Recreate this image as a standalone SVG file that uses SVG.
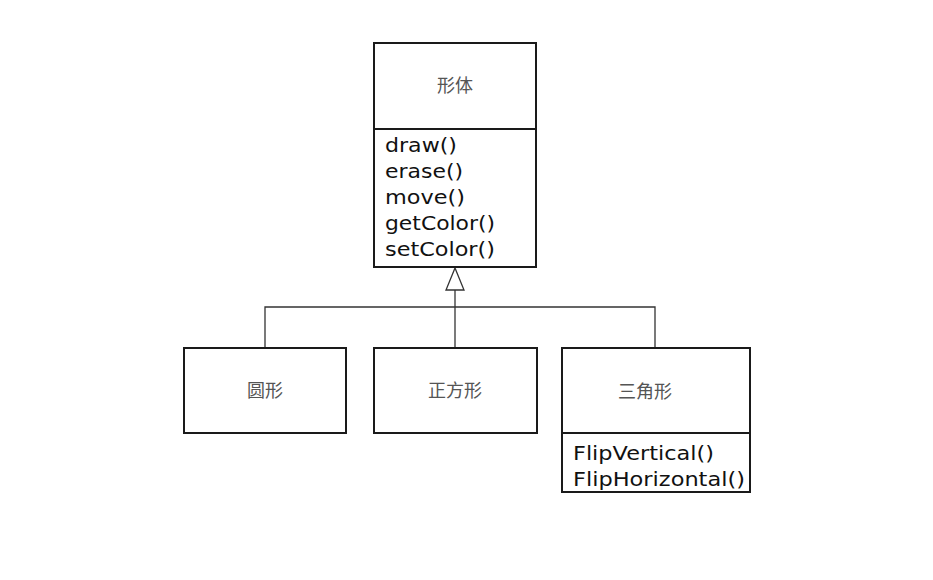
<svg xmlns="http://www.w3.org/2000/svg" width="933" height="580" viewBox="0 0 933 580">
<style>
.box{fill:#fff;stroke:#1a1a1a;stroke-width:2}
.conn{fill:none;stroke:#333;stroke-width:1.3}
.cn{font-family:"Noto Sans CJK SC","Noto Sans CJK JP",serif;font-size:18px;fill:#555;text-anchor:middle}
.m{font-family:"DejaVu Sans",Verdana,sans-serif;font-size:19px;fill:#111}
</style>
<rect width="933" height="580" fill="#fff"/>
<g id="connectors">
<polyline class="conn" points="265,348 265,307 655,307 655,348"/>
<line class="conn" x1="455" y1="290" x2="455" y2="348"/>
<polygon points="455,268 446,290 464,290" fill="#fff" stroke="#333" stroke-width="1.3"/>
</g>
<g id="shape">
<rect class="box" x="374" y="43" width="162" height="224"/>
<line x1="374" y1="129" x2="536" y2="129" stroke="#1a1a1a" stroke-width="2"/>
<text class="cn" x="455" y="92">形体</text>
<text class="m" x="385" y="152" textLength="72" lengthAdjust="spacingAndGlyphs">draw()</text>
<text class="m" x="385" y="178" textLength="78" lengthAdjust="spacingAndGlyphs">erase()</text>
<text class="m" x="385" y="204" textLength="80" lengthAdjust="spacingAndGlyphs">move()</text>
<text class="m" x="385" y="230" textLength="110" lengthAdjust="spacingAndGlyphs">getColor()</text>
<text class="m" x="385" y="256" textLength="110" lengthAdjust="spacingAndGlyphs">setColor()</text>
</g>
<g id="circle">
<rect class="box" x="184" y="348" width="162" height="85"/>
<text class="cn" x="265" y="397">圆形</text>
</g>
<g id="square">
<rect class="box" x="374" y="348" width="163" height="85"/>
<text class="cn" x="455" y="397">正方形</text>
</g>
<g id="triangle">
<rect class="box" x="562" y="348" width="188" height="144"/>
<line x1="562" y1="433" x2="750" y2="433" stroke="#1a1a1a" stroke-width="2"/>
<text class="cn" x="645" y="398">三角形</text>
<text class="m" x="573" y="460" textLength="141" lengthAdjust="spacingAndGlyphs">FlipVertical()</text>
<text class="m" x="573" y="486" textLength="172" lengthAdjust="spacingAndGlyphs">FlipHorizontal()</text>
</g>
</svg>
